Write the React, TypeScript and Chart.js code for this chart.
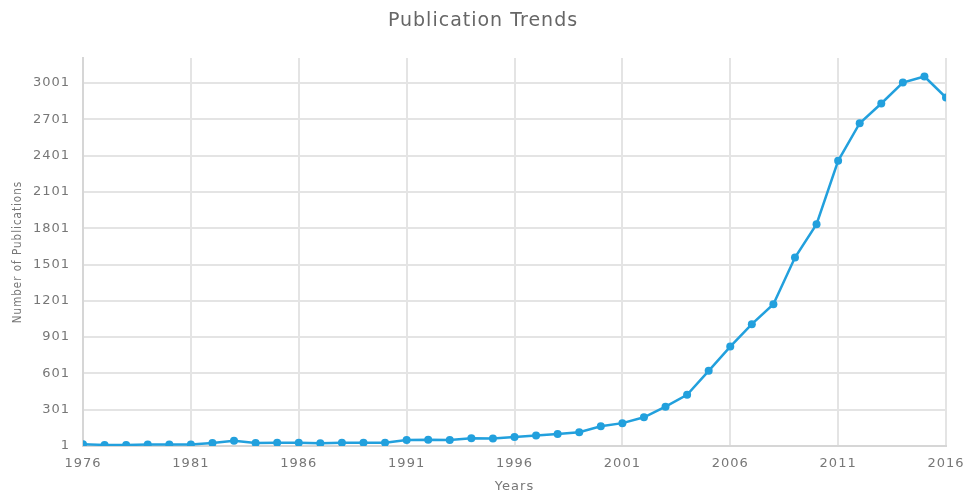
import React, { useEffect, useRef } from "react";
import { Chart, registerables } from "chart.js";

Chart.register(...registerables);

const years: number[] = [
  1976, 1977, 1978, 1979, 1980, 1981, 1982, 1983, 1984, 1985, 1986, 1987, 1988, 1989,
  1990, 1991, 1992, 1993, 1994, 1995, 1996, 1997, 1998, 1999, 2000, 2001, 2002, 2003,
  2004, 2005, 2006, 2007, 2008, 2009, 2010, 2011, 2012, 2013, 2014, 2015, 2016,
];
const publications: number[] = [
  15, 10, 10, 13, 13, 13, 25, 45, 25, 27, 27, 23, 27, 27,
  27, 50, 52, 50, 66, 62, 75, 88, 101, 115, 164, 190, 238, 326,
  424, 622, 823, 1008, 1173, 1559, 1834, 2358, 2669, 2832, 3005, 3055, 2881,
];
const yTicks: number[] = [1, 301, 601, 901, 1201, 1501, 1801, 2101, 2401, 2701, 3001];

const spacingPlugin = {
  id: "spacing",
  beforeDraw: (chart: any) => {
    chart.ctx.letterSpacing = "1px";
  },
  afterDraw: (chart: any) => {
    chart.ctx.letterSpacing = "0px";
  },
};

export default function App() {
  const ref = useRef<HTMLCanvasElement | null>(null);
  useEffect(() => {
    document.body.style.margin = "0";
    const ctx = ref.current!.getContext("2d")!;
    const chart = new Chart(ctx, {
      type: "line",
      plugins: [spacingPlugin],
      data: {
        datasets: [
          {
            data: years.map((y, i) => ({ x: y, y: publications[i] })),
            borderColor: "#22a0dd",
            backgroundColor: "#22a0dd",
            borderWidth: 2.5,
            pointRadius: 4,
            pointBorderWidth: 0,
            tension: 0,
          },
        ],
      },
      options: {
        animation: false,
        responsive: false,
        layout: { padding: 0 },
        plugins: {
          legend: { display: false },
          tooltip: { enabled: false },
          title: {
            display: true,
            text: "Publication Trends",
            color: "#666",
            font: { family: "DejaVu Sans", size: 19, weight: "normal", lineHeight: 1.2 },
            padding: { top: 10, bottom: 25.2 },
          },
        },
        scales: {
          x: {
            type: "linear",
            min: 1976,
            max: 2016,
            ticks: {
              stepSize: 5,
              color: "#777",
              font: { family: "DejaVu Sans", size: 13 },
              padding: 10,
              maxRotation: 0,
              callback: (v: any) => String(v),
            },
            grid: { color: "#e4e4e4", lineWidth: 2, drawTicks: false },
            border: { color: "#d6d6d6", width: 2 },
            title: {
              display: true,
              text: "Years",
              color: "#777",
              font: { family: "DejaVu Sans", size: 13, lineHeight: 1 },
              padding: { top: 2, bottom: 0 },
            },
            afterFit: (s: any) => {
              s.height = 47;
              s.paddingLeft = 0;
              s.paddingRight = 20;
            },
          },
          y: {
            type: "linear",
            min: 1,
            max: 3208,
            afterBuildTicks: (s: any) => {
              s.ticks = yTicks.map((v) => ({ value: v }));
            },
            ticks: {
              color: "#777",
              font: { family: "DejaVu Sans", size: 13 },
              padding: 13,
              callback: (v: any) => String(v),
            },
            grid: { color: "#e4e4e4", lineWidth: 2, drawTicks: false },
            border: { color: "#d6d6d6", width: 2 },
            title: {
              display: true,
              text: "Number of Publications",
              color: "#777",
              font: { family: "DejaVu Sans Condensed", size: 11.5, lineHeight: 1.2 },
              padding: { top: 11, bottom: 0 },
            },
            afterFit: (s: any) => {
              s.width = 83;
              s.paddingTop = 0;
              s.paddingBottom = 0;
            },
          },
        },
      },
    });
    return () => chart.destroy();
  }, []);
  return <canvas ref={ref} width={966} height={493} style={{ display: "block" }} />;
}
